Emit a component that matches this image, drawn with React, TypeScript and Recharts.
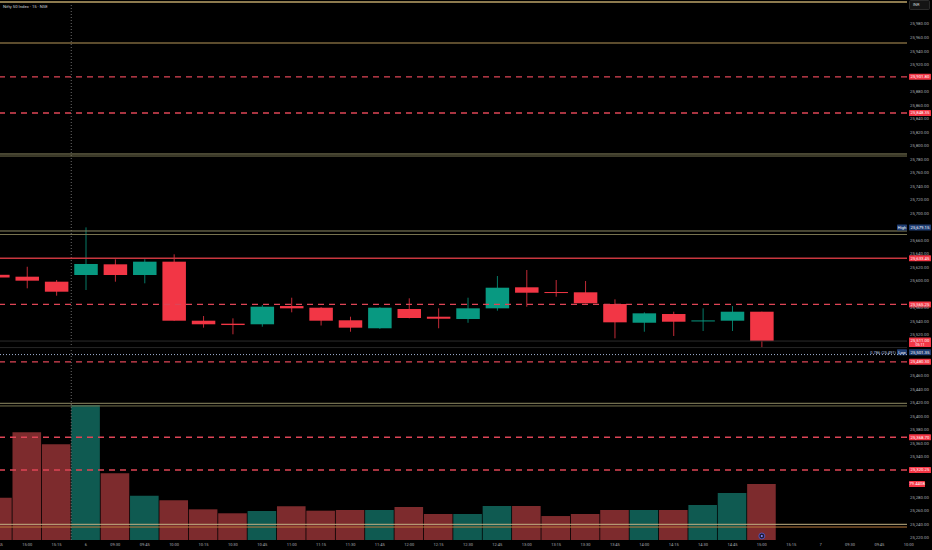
import React from 'react';
import { ComposedChart, Bar, XAxis, YAxis, ReferenceLine, ReferenceDot, Cell } from 'recharts';

const TIME_LABELS = ['14:45', '15:00', '15:15', '6', '09:30', '09:45', '10:00', '10:15', '10:30', '10:45', '11:00', '11:15', '11:30', '11:45', '12:00', '12:15', '12:30', '12:45', '13:00', '13:15', '13:30', '13:45', '14:00', '14:15', '14:30', '14:45', '15:00', '15:15', '7', '09:30', '09:45', '10:00'];
const X_TICKS = TIME_LABELS.map((_, i) => i);

const OPEN = [25609, 25606.2, 25598.8, 25608.7, 25624.5, 25608.7, 25628.4, 25541.1, 25536.7, 25535.8, 25562.8, 25560.3, 25541.7, 25529.9, 25558.4, 25547.0, 25543.6, 25559.4, 25590.5, 25583.5, 25583.1, 25565.8, 25538.1, 25551.0, 25540.6, 25541.1, 25554.4];
const HIGH = [25612, 25620.9, 25601.3, 25679.15, 25631.9, 25632.0, 25639.3, 25548.0, 25544.6, 25564.3, 25575.1, 25561.0, 25547.0, 25561.0, 25574.2, 25559.4, 25575.1, 25607.2, 25616.1, 25601.3, 25599.8, 25572.7, 25553.5, 25554.4, 25559.4, 25562.8, 25554.5];
const LOW = [25603, 25589.0, 25578.1, 25586.5, 25598.8, 25596.4, 25541.0, 25530.8, 25521.0, 25532.2, 25553.5, 25534.0, 25524.8, 25529.0, 25544.6, 25529.9, 25538.0, 25555.9, 25561.8, 25576.6, 25566.8, 25515.0, 25524.8, 25518.5, 25525.9, 25525.9, 25501.35];
const CLOSE = [25605, 25600.3, 25584.0, 25625.0, 25608.7, 25628.4, 25541.1, 25535.8, 25534.7, 25561.8, 25559.4, 25541.1, 25530.8, 25560.3, 25545.1, 25544.0, 25559.4, 25589.9, 25582.5, 25582.6, 25566.9, 25538.7, 25552.0, 25539.6, 25541.5, 25554.4, 25511.0];
const VOLUME = [60.0, 152.8, 135.7, 191.5, 94.6, 62.8, 56.3, 43.5, 37.9, 41.1, 47.8, 41.6, 42.6, 42.6, 46.8, 36.9, 36.9, 48.2, 48.2, 34.0, 36.9, 42.6, 42.6, 42.6, 49.6, 66.7, 79.4408];

const PRICE_TICKS = [25980, 25960, 25940, 25920, 25880, 25860, 25840, 25820, 25800, 25780, 25760, 25740, 25720, 25700, 25660, 25640, 25620, 25600, 25560, 25540, 25520, 25460, 25440, 25420, 25400, 25380, 25360, 25340, 25280, 25260, 25240, 25220];
const DASHED_LEVELS = [25901.8, 25848.35, 25565.25, 25480.3, 25368.7, 25320.25];
const SOLID_LEVEL = 25633.45;
const HIGH_LEVEL = 25679.15;
const LOW_LEVEL = 25501.35;
const FIB_LEVEL = 25491;
const FIB_TEXT = '0.786 (25,491)';
const COUNTDOWN = '05:11';
const SINGLE_TAN = [26012.5, 25951.9];
const DOUBLE_TAN = [[25787.7, 25784.7], [25673.8, 25668.6], [25418.9, 25415.0], [25239.9, 25235.9]];
const SESSION_BREAKS = [2.5];
const EVENT_MARK = { i: 26, price: 25222.6 };
const TITLE = 'Nifty 50 Index · 15 · NSE';
const CURRENCY = 'INR';

const PRICE_MIN = 25216.7;
const PRICE_MAX = 26015.5;
const VOL_MAX = 766;
const X_MIN = 0.075;
const X_MAX = 30.94;

const UP = '#089981';
const DOWN = '#F23645';
const VOL_UP = '#0f5a51';
const VOL_DOWN = '#7d2b2d';
const FONT = 'Roboto, "Liberation Sans", sans-serif';

const fmt = (v: number) => v.toLocaleString('en-US', { minimumFractionDigits: 2, maximumFractionDigits: 2 });

const data = OPEN.map((o, i) => ({ i, open: o, high: HIGH[i], low: LOW[i], close: CLOSE[i], vol: VOLUME[i] }));

function Candle(props: any) {
  const { x, y, width, height, payload } = props;
  if (!payload || x == null || y == null) return null;
  const { open, close, high, low } = payload;
  const up = close >= open;
  const color = up ? UP : DOWN;
  const k = high - low > 0 ? height / (high - low) : 0;
  const py = (p: number) => y + (high - p) * k;
  const cx = x + width / 2;
  const top = py(Math.max(open, close));
  const bh = Math.max(1, Math.abs(py(open) - py(close)));
  return (
    <g>
      <line x1={cx} x2={cx} y1={y} y2={y + height} stroke={color} strokeWidth={1} strokeOpacity={0.8} />
      <rect x={x} y={top} width={width} height={bh} fill={color} />
    </g>
  );
}

function PriceTick(props: any) {
  const { x, y, payload } = props;
  return (
    <text x={x} y={y + 1.5} fontSize={4.3} fill="#a9acb4" fontFamily={FONT} textAnchor="start">
      {fmt(payload.value)}
    </text>
  );
}

function PriceTag(props: any) {
  const { viewBox, text, fill = DOWN, color = '#ffffff', tag, sub, note, w = 22, dy = 0 } = props;
  if (!viewBox) return null;
  const right = viewBox.x + viewBox.width;
  const x = right + 2;
  const y = viewBox.y + dy;
  const h = sub ? 9.5 : 6;
  return (
    <g>
      <rect x={x} y={y - 3} width={w} height={h} fill={fill} rx={0.6} />
      <text x={x + w / 2} y={y + 1.5} fontSize={4.3} fill={color} textAnchor="middle" fontFamily={FONT}>{text}</text>
      {sub ? <text x={x + w / 2} y={y + 5.8} fontSize={3.6} fill={color} textAnchor="middle" fontFamily={FONT}>{sub}</text> : null}
      {tag ? (
        <g>
          <rect x={right - 10} y={y - 3} width={10} height={6} fill={fill} rx={0.6} />
          <text x={right - 5} y={y + 1.5} fontSize={4} fill={color} textAnchor="middle" fontFamily={FONT}>{tag}</text>
        </g>
      ) : null}
      {note ? <text x={right - 11} y={y + 1.5} fontSize={4} fill="#b9c6e4" textAnchor="end" fontFamily={FONT}>{note}</text> : null}
    </g>
  );
}

function EventMark(props: any) {
  const { cx, cy } = props;
  if (cx == null || cy == null) return null;
  return (
    <g>
      <circle cx={cx} cy={cy} r={3} fill="#1b1b3a" stroke="#5d5fd0" strokeWidth={0.8} />
      <circle cx={cx} cy={cy} r={1} fill="#8f90ff" />
    </g>
  );
}

export default function App() {
  return (
    <div style={{ position: 'absolute', left: 0, top: 0, width: 932, height: 550, background: '#000', overflow: 'hidden' }}>
      <ComposedChart width={932} height={550} data={data} margin={{ top: 0, right: 0, left: 0, bottom: 0 }}>
        <XAxis
          type="number"
          dataKey="i"
          domain={[X_MIN, X_MAX]}
          allowDataOverflow
          ticks={X_TICKS}
          interval={0}
          tickFormatter={(v: number) => TIME_LABELS[v] ?? ''}
          height={10}
          axisLine={false}
          tickLine={false}
          tickSize={0}
          tickMargin={3}
          tick={{ fontSize: 4, fill: '#a9acb4', fontFamily: FONT }}
        />
        <XAxis xAxisId="v" type="number" dataKey="i" domain={[X_MIN, X_MAX]} allowDataOverflow hide />
        <YAxis
          orientation="right"
          width={25}
          domain={[PRICE_MIN, PRICE_MAX]}
          allowDataOverflow
          ticks={PRICE_TICKS}
          interval={0}
          axisLine={false}
          tickLine={false}
          tickSize={0}
          tickMargin={3}
          tick={<PriceTick />}
        />
        <YAxis yAxisId="v" hide domain={[0, VOL_MAX]} allowDataOverflow />

        <Bar xAxisId="v" yAxisId="v" dataKey="vol" barSize={28.6} isAnimationActive={false}>
          {data.map((d) => (
            <Cell key={d.i} fill={d.close >= d.open ? VOL_UP : VOL_DOWN} />
          ))}
        </Bar>

        {SESSION_BREAKS.map((b) => (
          <ReferenceLine key={'s' + b} x={b} stroke="#6b6b6b" strokeDasharray="1 2" strokeWidth={1} />
        ))}

        <ReferenceLine y={SINGLE_TAN[0]} stroke="#8c7a4e" strokeWidth={2} />
        <ReferenceLine y={SINGLE_TAN[1]} stroke="#b8975a" strokeWidth={1.2} />
        {DOUBLE_TAN.map((pair, k) => (
          <React.Fragment key={'t' + k}>
            <ReferenceLine y={pair[0]} stroke={k === 3 ? '#c2b184' : '#8f8a63'} strokeWidth={1} />
            <ReferenceLine y={pair[1]} stroke={k === 3 ? '#b97a3c' : '#77734f'} strokeWidth={1} />
          </React.Fragment>
        ))}

        <ReferenceLine y={CLOSE[CLOSE.length - 1]} stroke="#2b2b2b" strokeWidth={1}
          label={<PriceTag text={fmt(CLOSE[CLOSE.length - 1])} sub={COUNTDOWN} dy={-0.5} />} />
        <ReferenceLine y={LOW_LEVEL} stroke="#262626" strokeWidth={1}
          label={<PriceTag text={fmt(LOW_LEVEL)} fill="#1f3d72" tag="Low" note={FIB_TEXT} dy={4.6} />} />
        <ReferenceLine y={FIB_LEVEL} stroke="#9fb0d0" strokeDasharray="1 2" strokeWidth={1} />
        <ReferenceLine y={HIGH_LEVEL} stroke="none"
          label={<PriceTag text={fmt(HIGH_LEVEL)} fill="#1f3d72" tag="High" />} />

        <ReferenceLine y={SOLID_LEVEL} stroke="#c8373f" strokeWidth={1.3}
          label={<PriceTag text={fmt(SOLID_LEVEL)} />} />
        {DASHED_LEVELS.map((v) => (
          <ReferenceLine key={'d' + v} y={v} stroke="#de4556" strokeWidth={1.3} strokeDasharray="6 5"
            label={<PriceTag text={fmt(v)} />} />
        ))}
        <ReferenceLine xAxisId="v" yAxisId="v" y={VOLUME[VOLUME.length - 1]} stroke="none"
          label={<PriceTag text={String(VOLUME[VOLUME.length - 1])} w={16} />} />

        <Bar dataKey={(d: any) => [d.low, d.high]} barSize={23.5} shape={<Candle />} isAnimationActive={false} />
        <ReferenceDot x={EVENT_MARK.i} y={EVENT_MARK.price} shape={<EventMark />} />
      </ComposedChart>
      <svg width={932} height={14} style={{ position: 'absolute', left: 0, top: 0, pointerEvents: 'none' }}>
        <text x={3} y={8} fontSize={4.2} fill="#d1d4dc" fontFamily={FONT}>{TITLE}</text>
        <rect x={909.5} y={0.5} width={20} height={9} fill="#141414" stroke="#3a3a3a" strokeWidth={0.7} rx={1} />
        <text x={913} y={6.2} fontSize={4} fill="#d1d4dc" fontFamily={FONT}>{CURRENCY}</text>
      </svg>
    </div>
  );
}
